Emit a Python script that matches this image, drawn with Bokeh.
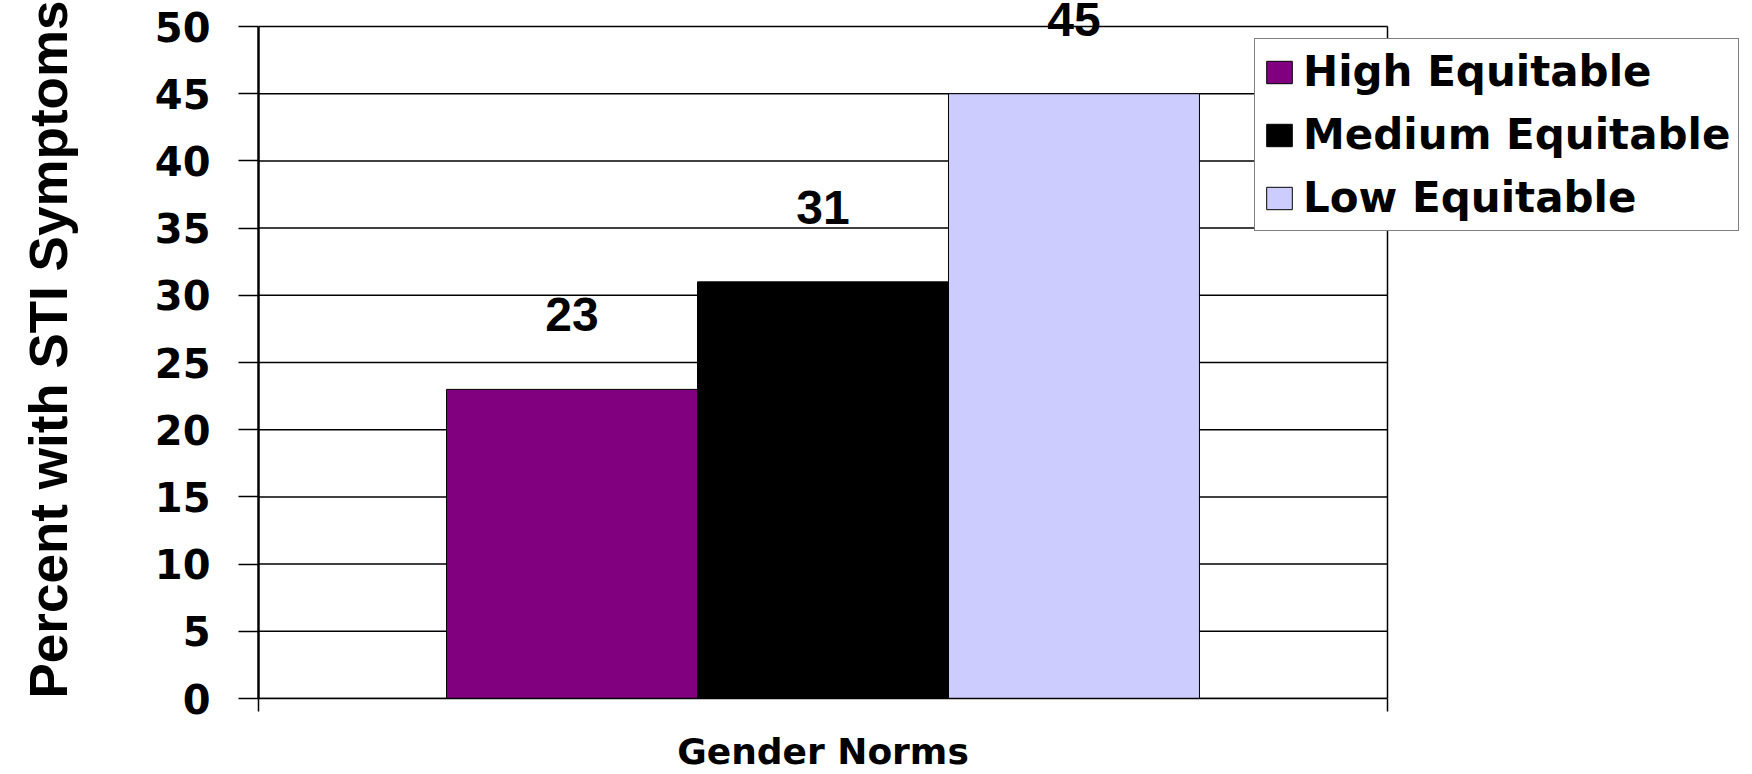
from bokeh.plotting import figure
from bokeh.models import (ColumnDataSource, Range1d, FixedTicker, LabelSet, Legend,
                          LegendItem, LinearAxis)
from bokeh.core.properties import value
from bokeh.embed import file_html
from bokeh.resources import INLINE

# ---- data ----
categories = ["High Equitable", "Medium Equitable", "Low Equitable"]
values = [23, 31, 45]
colors = ["#800080", "#000000", "#CCCCFF"]
group_label = "Gender Norms"
y_title = "Percent with STI Symptoms"
y_ticks = [0, 5, 10, 15, 20, 25, 30, 35, 40, 45, 50]

# ---- layout of the bars within the single group (group spans x = 0..1) ----
bar_width = 0.2223
group_center = 0.5
xs = [group_center + (i - 1) * bar_width for i in range(len(categories))]

source = ColumnDataSource(dict(
    x=xs,
    top=values,
    color=colors,
    name=categories,
    label=[str(v) for v in values],
))

grid_src = ColumnDataSource(dict(
    x0=[0] * len(y_ticks), x1=[1] * len(y_ticks), y=y_ticks,
))

W, H = 1752, 774
left_px, bottom_px, top_px = 258, 76, 26
frame_w = W - left_px
frame_h = H - bottom_px
group_px = 1129
px_per_unit_y = (frame_h - top_px) / 50.0

p = figure(
    width=W, height=H,
    output_backend="svg", toolbar_location=None,
    x_range=Range1d(0, frame_w / group_px),
    y_range=Range1d(0, 50 + top_px / px_per_unit_y),
    min_border_left=left_px, min_border_right=0,
    min_border_top=0, min_border_bottom=bottom_px,
    background_fill_color="white", border_fill_color="white",
)
p.outline_line_color = None

# horizontal gridlines and right edge of the plot area
p.segment(x0="x0", x1="x1", y0="y", y1="y", source=grid_src,
          line_color="black", line_width=1.5)
p.segment(x0=[1], x1=[1], y0=[0], y1=[50], line_color="black", line_width=1.5)

r = p.vbar(x="x", top="top", bottom=0, width=bar_width, source=source,
           fill_color="color", line_color="#000000", line_width=1)

labels = LabelSet(x="x", y="top", text="label", source=source,
                  y_offset=58, text_align="center", text_baseline="alphabetic",
                  text_font=value("Liberation Sans"), text_font_style="bold",
                  text_font_size="48px", text_color="black")
p.add_layout(labels)

# y axis
p.yaxis.bounds = (0, 50)
p.yaxis.ticker = FixedTicker(ticks=y_ticks)
p.yaxis.major_tick_out = 20
p.yaxis.major_tick_in = 0
p.yaxis.major_tick_line_width = 1.5
p.yaxis.major_tick_line_color = "black"
p.yaxis.minor_tick_out = 0
p.yaxis.minor_tick_in = 0
p.yaxis.axis_line_width = 2.5
p.yaxis.axis_line_color = "black"
p.yaxis.major_label_text_font = "DejaVu Sans"
p.yaxis.major_label_text_font_style = "bold"
p.yaxis.major_label_text_font_size = "40px"
p.yaxis.major_label_text_color = "black"
p.yaxis.major_label_standoff = 28
p.yaxis.axis_label = y_title
p.yaxis.axis_label_text_font = "Liberation Sans"
p.yaxis.axis_label_text_font_style = "bold"
p.yaxis.axis_label_text_font_size = "53px"
p.yaxis.axis_label_text_color = "black"
p.yaxis.axis_label_standoff = 74

# x axis: category boundaries as ticks
p.xaxis.bounds = (0, 1)
p.xaxis.ticker = FixedTicker(ticks=[0, 1])
p.xaxis.major_tick_out = 13
p.xaxis.major_tick_in = 0
p.xaxis.major_tick_line_width = 1.5
p.xaxis.major_tick_line_color = "black"
p.xaxis.minor_tick_out = 0
p.xaxis.minor_tick_in = 0
p.xaxis.axis_line_width = 1.5
p.xaxis.axis_line_color = "black"
p.xaxis.major_label_overrides = {0: "", 1: ""}
p.xaxis.major_label_standoff = 0
p.xaxis.major_label_text_font_size = "1px"

# category name centred under the group
cat_axis = LinearAxis(
    ticker=FixedTicker(ticks=[group_center]),
    major_label_overrides={group_center: group_label},
    axis_line_color=None, major_tick_line_color=None,
    minor_tick_line_color=None, major_tick_out=0, major_tick_in=0,
    minor_tick_out=0, minor_tick_in=0,
    major_label_standoff=19,
    major_label_text_font="DejaVu Sans", major_label_text_font_style="bold",
    major_label_text_font_size="36px", major_label_text_color="black",
)
p.add_layout(cat_axis, "below")

# no built-in grids (gridlines drawn above, limited to the plot area)
p.xgrid.visible = False
p.ygrid.visible = False

legend = Legend(
    items=[LegendItem(label=categories[i], renderers=[r], index=i) for i in range(len(categories))],
    location=(1254 - left_px, frame_h - 231),
    label_text_font="DejaVu Sans", label_text_font_style="bold",
    label_text_font_size="42px", label_text_color="black",
    glyph_width=32, glyph_height=28, label_standoff=8,
    spacing=14, padding=8, margin=0,
    border_line_color="black", border_line_width=1.5,
    background_fill_color="white", background_fill_alpha=1.0,
)
p.add_layout(legend)

open("out.html", "w").write(file_html(p, INLINE))
